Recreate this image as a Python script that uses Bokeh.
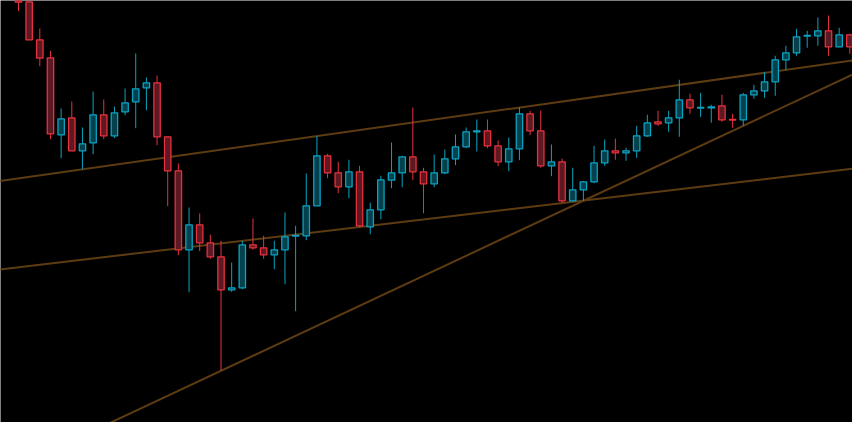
from bokeh.plotting import figure
from bokeh.models import Range1d, ColumnDataSource
from bokeh.embed import file_html
from bokeh.resources import INLINE

# Candle index
idx = list(range(80))

opens = [443, 430.7, 392.7, 374.7, 297.7, 314.7, 281.7, 289.7, 317.7, 296.7,
         320.7, 330.7, 344.7, 349.7, 295.7, 261.7, 182.7, 207.7, 189.7, 175.7,
         142.7, 144.7, 187.7, 184.7, 177.7, 182.7, 196.4, 196.7, 226.7, 276.7,
         259.7, 245.7, 260.7, 205.7, 222.7, 252.3, 259.7, 275.7, 260.7, 248.7,
         259.7, 273.7, 285.7, 300.7, 301.7, 286.7, 270.7, 283.7, 318.7, 301.7,
         266.7, 270.7, 231.7, 242.7, 250.7, 269.7, 281.7, 279.7, 281.7, 296.7,
         310.7, 309.7, 314.7, 332.7, 324.4, 324.7, 326.7, 313.0, 312.7, 337.7,
         341.7, 350.7, 372.7, 379.7, 396.4, 396.7, 401.7, 385.7, 397.7, 385.7]

highs = [448, 434, 404, 381.7, 324, 331, 305, 341, 333, 326,
         344, 379, 355, 357, 295.7, 269, 225, 219, 197.7, 191.7,
         170, 191.7, 214, 196.7, 191.7, 220, 206.7, 259, 296.3, 278.7,
         270.7, 272.7, 266.7, 229.7, 256.7, 290, 276.7, 325, 264.7, 278,
         283, 298, 305, 313, 313, 292, 295, 325, 321.7, 322,
         288, 274, 264.7, 251.7, 286.7, 293, 294, 284.7, 306.7, 317.7,
         321.7, 321.7, 352.7, 338.7, 339.7, 327.7, 337.7, 318.7, 339.7, 347.7,
         360.7, 376.7, 386.7, 403.7, 401.7, 415, 417, 404.7, 398.7, 389.7]

lows = [421.3, 392.5, 366.3, 293.3, 274.3, 281.5, 263.3, 278.3, 293.3, 294.3,
        317.3, 304.3, 322.3, 287.3, 226.3, 177.3, 140.3, 181.3, 173.7, 61.7,
        140.7, 143.3, 182.7, 173.7, 163.3, 148.3, 121.3, 192.3, 226.5, 254.3,
        239.3, 234.3, 205.3, 198.3, 213.3, 244.3, 245.3, 252.3, 219.3, 245.3,
        258.3, 267.3, 284.7, 281, 284.3, 266.3, 261.3, 272.3, 297.3, 264.7,
        256.3, 229.7, 231.5, 231.7, 249.3, 266.7, 272.7, 271.7, 274.7, 295.7,
        306.7, 300.7, 295.7, 318.7, 315.7, 309.7, 310.7, 304.7, 306.7, 333.7,
        334.7, 336.7, 362.7, 376.7, 384.7, 386.7, 376.7, 385.5, 378.7, 365.7]

closes = [430.3, 392.7, 374.3, 298.7, 313.7, 281.7, 288.7, 317.7, 296.7, 319.7,
          329.7, 343.7, 349.7, 295.7, 261.7, 182.7, 207.7, 189.7, 175.7, 142.7,
          144.7, 187.7, 184.7, 177.7, 182.7, 195.7, 197.0, 226.7, 276.7, 259.7,
          245.7, 260.7, 206.7, 222.7, 252.7, 259.7, 275.7, 260.7, 248.7, 259.7,
          273.7, 285.7, 300.7, 301.7, 286.7, 270.7, 283.7, 318.7, 301.7, 266.7,
          270.7, 231.7, 242.7, 250.7, 269.7, 281.7, 279.7, 281.7, 296.7, 309.7,
          308.7, 314.7, 332.7, 324.7, 325.0, 325.7, 312.7, 312.4, 337.7, 341.7,
          350.7, 372.7, 379.7, 395.7, 397.0, 401.7, 385.7, 397.7, 385.7, 369.7]

# Trend lines (start/end index, start/end price)
trend_x = [[-3, 80], [-3, 80], [5, 80]]
trend_y = [[249.5, 374.8], [161.5, 265.9], [-8.3, 366.7]]

UP_LINE, UP_FILL = "#0ba3c2", "#04414d"
DN_LINE, DN_FILL = "#e5323f", "#5e1821"

up = [c >= o for o, c in zip(opens, closes)]
src = ColumnDataSource(dict(
    x=idx,
    open=opens, close=closes, high=highs, low=lows,
    top=[max(o, c) for o, c in zip(opens, closes)],
    bottom=[min(o, c) for o, c in zip(opens, closes)],
    line=[UP_LINE if u else DN_LINE for u in up],
    fill=[UP_FILL if u else DN_FILL for u in up],
))

p = figure(width=852, height=422,
           x_range=Range1d(-1.689, 78.25), y_range=Range1d(10, 432),
           x_axis_type=None, y_axis_type=None,
           output_backend="svg", toolbar_location=None,
           min_border=0, background_fill_color="black",
           border_fill_color="black", outline_line_color=None)
p.grid.visible = False

p.multi_line(xs=trend_x, ys=trend_y, line_color="#5e3c12", line_width=2)

p.segment(x0="x", y0="high", x1="x", y1="low", source=src,
          line_color="line", line_width=1)
p.vbar(x="x", top="top", bottom="bottom", width=0.6, source=src,
       fill_color="fill", line_color="line", line_width=1.3)

open("out.html", "w").write(file_html(p, INLINE))
